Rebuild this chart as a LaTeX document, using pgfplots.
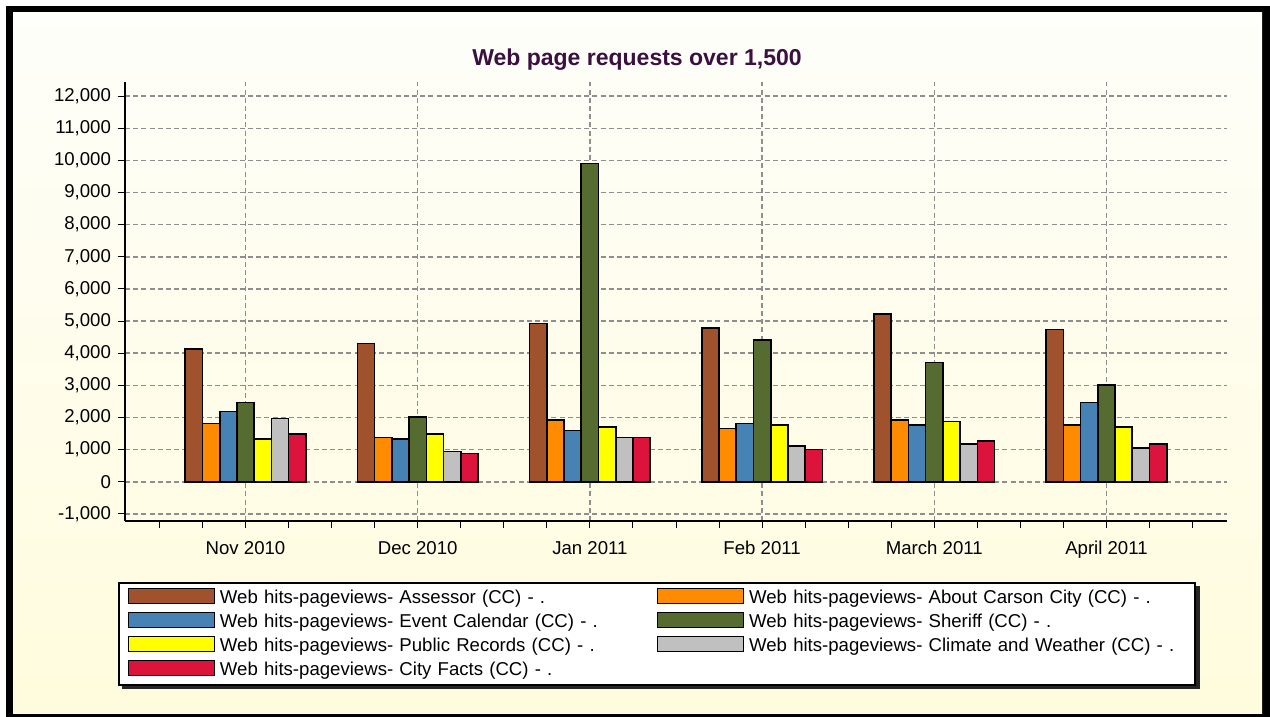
\documentclass[border=0pt]{standalone}
\usepackage{pgfplots}
\pgfplotsset{compat=1.18}
\usepackage{pgfplotstable}
\usepackage{fontspec}
\setmainfont{Liberation Sans}
\usetikzlibrary{backgrounds}

% series colours
\definecolor{cSienna}{HTML}{A0522D}
\definecolor{cOrange}{HTML}{FF8C00}
\definecolor{cSteel}{HTML}{4682B4}
\definecolor{cOlive}{HTML}{556B2F}
\definecolor{cYellow}{HTML}{FFFF00}
\definecolor{cSilver}{HTML}{C0C0C0}
\definecolor{cCrimson}{HTML}{DC143C}
% decoration
\definecolor{titlePurple}{HTML}{3B0F40}
\definecolor{bgTop}{HTML}{FEFEFA}
\definecolor{bgBottom}{HTML}{FFFCDD}
\definecolor{gridGray}{HTML}{8E8E8E}

% page requests per month (0 = Nov 2010 ... 5 = April 2011)
\pgfplotstableread{
month assessor about event sheriff records climate facts
0 4140 1810 2190 2470 1330 1970 1480
1 4300 1380 1330 2020 1480  940  880
2 4920 1930 1600 9900 1700 1380 1380
3 4790 1660 1810 4410 1760 1120 1000
4 5230 1930 1760 3710 1870 1170 1270
5 4740 1760 2470 3010 1710 1060 1170
}\pagedata

\begin{document}
\begin{tikzpicture}
\useasboundingbox (0,0) rectangle (635pt,358.5pt);
% frame and panel background
\begin{scope}[on background layer]
\fill[white] (0,0) rectangle (635pt,358.5pt);
\fill[black] (3pt,0) rectangle (635pt,355.5pt);
\shade[top color=bgTop, bottom color=bgBottom] (6.5pt,1.5pt) rectangle (631pt,352pt);
\end{scope}

\begin{axis}[
  at={(62.5pt,98pt)}, anchor=south west,
  scale only axis, width=551pt, height=219.5pt,
  xmin=-0.7, xmax=5.7, ymin=-1220, ymax=12440,
  axis lines*=left,
  axis line style={line width=1.4pt, black},
  ybar=0pt, bar width=0.1,
  xtick={0,...,5},
  xticklabels={Nov 2010,Dec 2010,Jan 2011,Feb 2011,March 2011,April 2011},
  minor xtick={-0.5,-0.25,...,5.5},
  ytick={-1000,0,...,12000},
  scaled y ticks=false,
  tick align=outside,
  major tick length=3.5pt, minor tick length=3.5pt,
  tick style={black, line width=0.5pt},
  xmajorgrids, ymajorgrids,
  major grid style={draw=gridGray, line width=0.75pt, dash pattern=on 2.5pt off 1.6pt},
  tick label style={font=\fontsize{9.3}{11}\selectfont},
  xticklabel style={yshift=-3pt},
  /pgf/number format/1000 sep={,},
  /pgf/number format/assume math mode=true,
  title={Web page requests over 1,500},
  title style={at={(0.4646,1)}, anchor=base, yshift=2pt,
    font=\fontsize{11.5}{13}\selectfont\bfseries, text=titlePurple},
  legend columns=2,
  legend cell align=left,
  legend image code/.code={\draw[#1, line width=0.6pt] (0pt,-3pt) rectangle (43pt,4.5pt);},
  legend style={name=leg, at={(-0.00635,-0.139)}, anchor=north west,
    draw=black, line width=0.75pt, fill=white,
    inner xsep=4.5pt, inner ysep=1.5pt,
    font=\fontsize{9.3}{11}\selectfont,
    nodes={inner xsep=2.5pt, inner ysep=1.5pt, text width=216pt,
      text height=7.5pt, text depth=1.5pt},
    /tikz/column sep=0pt, /tikz/row sep=0pt},
]
\addplot[fill=cSienna, draw=black, line width=0.8pt] table[x=month, y=assessor] {\pagedata};
\addlegendentry{Web hits-pageviews- Assessor (CC) - .}
\addplot[fill=cOrange, draw=black, line width=0.8pt] table[x=month, y=about] {\pagedata};
\addlegendentry{Web hits-pageviews- About Carson City (CC) - .}
\addplot[fill=cSteel, draw=black, line width=0.8pt] table[x=month, y=event] {\pagedata};
\addlegendentry{Web hits-pageviews- Event Calendar (CC) - .}
\addplot[fill=cOlive, draw=black, line width=0.8pt] table[x=month, y=sheriff] {\pagedata};
\addlegendentry{Web hits-pageviews- Sheriff (CC) - .}
\addplot[fill=cYellow, draw=black, line width=0.8pt] table[x=month, y=records] {\pagedata};
\addlegendentry{Web hits-pageviews- Public Records (CC) - .}
\addplot[fill=cSilver, draw=black, line width=0.8pt] table[x=month, y=climate] {\pagedata};
\addlegendentry{Web hits-pageviews- Climate and Weather (CC) - .}
\addplot[fill=cCrimson, draw=black, line width=0.8pt] table[x=month, y=facts] {\pagedata};
\addlegendentry{Web hits-pageviews- City Facts (CC) - .}
\end{axis}

% drop shadow behind the legend box
\begin{scope}[on background layer]
\fill[black!85] ([xshift=1.8pt,yshift=-1.8pt]leg.south west) rectangle ([xshift=1.8pt,yshift=-1.8pt]leg.north east);
\end{scope}
\end{tikzpicture}
\end{document}
